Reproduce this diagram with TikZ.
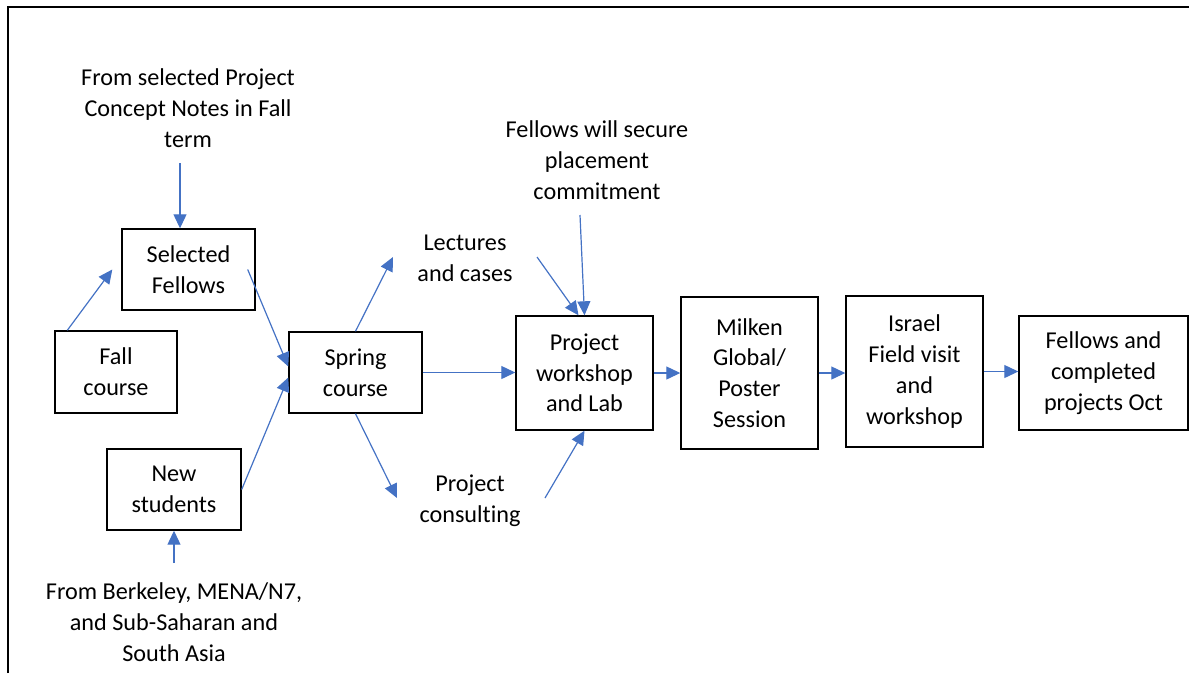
\documentclass[tikz,border=0pt]{standalone}
\usepackage{fontspec}
\setmainfont[Ligatures=NoCommon]{Carlito}
\usetikzlibrary{arrows.meta,calc}
\definecolor{arrblue}{HTML}{4472C4}
\begin{document}
\begin{tikzpicture}[x=1pt,y=-1pt,
 box/.style={draw=black,line width=1.4pt,inner sep=0pt,align=center,font=\fontsize{24.2}{30.7}\selectfont},
 lbl/.style={inner sep=0pt,align=center,font=\fontsize{24.2}{30.7}\selectfont},
 conn/.style={draw=arrblue,line width=1.2pt,-{Triangle[length=14pt,width=13pt]}}]
\useasboundingbox (0,0) rectangle (1189,673);
\draw[line width=2pt] (8,673) -- (8,7) -- (1189,7);
% boxes
\node[box,minimum width=133pt,minimum height=81pt] (sel) at (188.5,269.5) {Selected\\Fellows};
\node[box,minimum width=122pt,minimum height=82pt] (fall) at (116,372) {Fall\\course};
\node[box,minimum width=134pt,minimum height=81pt] (new) at (174,489.5) {New\\students};
\node[box,minimum width=133pt,minimum height=81pt] (spring) at (355.5,372.5) {Spring\\course};
\node[box,minimum width=137pt,minimum height=114pt] (proj) at (584.5,373) {Project\\workshop\\and Lab};
\node[box,minimum width=137pt,minimum height=152pt] (milken) at (749.5,373) {Milken\\Global/\\Poster\\Session};
\node[box,minimum width=137pt,minimum height=151pt] (israel) at (914.5,371.5) {Israel\\Field visit\\and\\workshop};
\node[box,minimum width=169pt,minimum height=114pt] (fellows) at (1103.5,373) {Fellows and\\completed\\projects Oct};
% labels
\node[lbl] (topl) at (188,108) {From selected Project\\Concept Notes in Fall\\term};
\node[lbl] (secure) at (597,160) {Fellows will secure\\placement\\commitment};
\node[lbl] (lect) at (465,258) {Lectures\\and cases};
\node[lbl] (cons) at (470,501) {Project\\consulting};
\node[lbl] (bot) at (174,622) {From Berkeley, MENA/N7,\\and Sub-Saharan and\\South Asia};
% free ends
\coordinate (c1) at (180,163);
\coordinate (c2) at (393,257);
\coordinate (c3) at (397,498);
\coordinate (c4) at (537,257);
\coordinate (c5) at (580,215);
\coordinate (c6) at (545,498);
\coordinate (c7) at (174,563);
% connectors
\draw[conn] (c1) -- (c1 |- sel.north);
\draw[conn] ([xshift=13pt]fall.north west) -- ([xshift=-9pt]sel.west);
\draw[conn] ([xshift=-8pt]sel.east) -- ([yshift=6pt]spring.west);
\draw[conn] (new.east) -- ([yshift=-5pt]spring.west);
\draw[conn] (spring.north) -- (c2);
\draw[conn] (spring.south) -- (c3);
\draw[conn] (spring.east) -- (spring.east -| proj.west);
\draw[conn] (c4) -- ([xshift=-6pt]proj.north);
\draw[conn] (c5) -- (proj.north);
\draw[conn] (c6) -- (proj.south);
\draw[conn] (c7) -- (new.south);
\draw[conn] (proj.east) -- (proj.east -| milken.west);
\draw[conn] (milken.east) -- (milken.east -| israel.west);
\draw[conn] (israel.east) -- (israel.east -| fellows.west);
\end{tikzpicture}
\end{document}
